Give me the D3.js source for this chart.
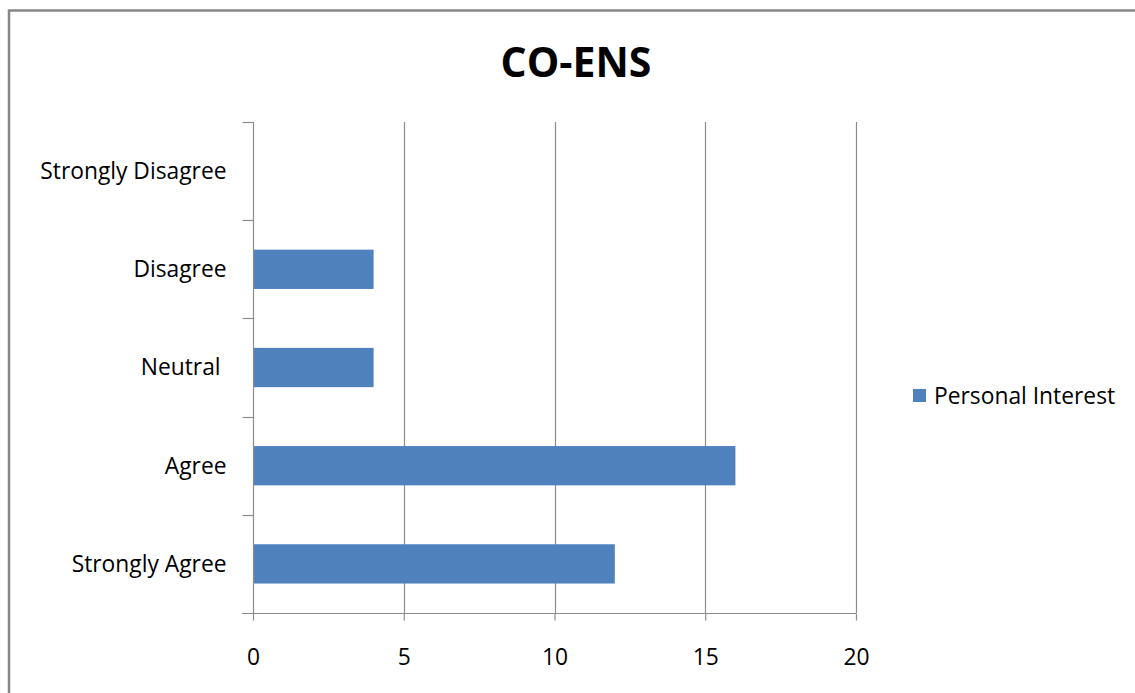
<!DOCTYPE html>
<html>
<head>
<meta charset="utf-8">
<script src="https://cdn.jsdelivr.net/npm/d3@7"></script>
<style>
  html, body { margin: 0; padding: 0; background: #fff; }
  svg { display: block; }
</style>
</head>
<body>
<div id="chart"></div>
<script>
// --- Data ---
const categories = ["Strongly Disagree", "Disagree", "Neutral ", "Agree", "Strongly Agree"];
const personalInterest = [0, 4, 4, 16, 12];
const xTicks = [0, 5, 10, 15, 20];
const seriesName = "Personal Interest";
const chartTitle = "CO-ENS";

// --- Layout ---
const W = 1135, H = 693;
const plot = { left: 253, right: 856, top: 122, bottom: 613 };
const FONT = "'Open Sans', Lato, sans-serif";
const LABEL_SIZE = 22.8;
const BAR_COLOR = "#4f81bd";
const GRID = "#8c8c8c";

const svg = d3.select("#chart").append("svg")
    .attr("width", W)
    .attr("height", H);

// outer chart border
svg.append("rect")
    .attr("x", 9).attr("y", 10.5)
    .attr("width", W + 20).attr("height", H + 20)
    .attr("fill", "#fff")
    .attr("stroke", "#868686")
    .attr("stroke-width", 2.5);

// title
svg.append("text")
    .attr("x", 576).attr("y", 77)
    .attr("text-anchor", "middle")
    .attr("font-family", FONT)
    .attr("font-weight", "bold")
    .attr("font-size", 41)
    .attr("fill", "#000")
    .text(chartTitle);

const x = d3.scaleLinear().domain([0, 20]).range([plot.left, plot.right]);
const y = d3.scaleBand().domain(categories).range([plot.top, plot.bottom]).paddingInner(0.6).paddingOuter(0.3);
const yEdge = d3.scaleLinear().domain([0, categories.length]).range([plot.top, plot.bottom]);

// vertical gridlines
svg.append("g")
  .selectAll("line")
  .data(xTicks.slice(1))
  .join("line")
    .attr("x1", d => Math.round(x(d)) + 0.5)
    .attr("x2", d => Math.round(x(d)) + 0.5)
    .attr("y1", plot.top)
    .attr("y2", plot.bottom)
    .attr("stroke", GRID)
    .attr("stroke-width", 1.2);

// bars
svg.append("g")
  .selectAll("rect")
  .data(categories.map((c, i) => ({ c, v: personalInterest[i] })))
  .join("rect")
    .attr("x", x(0))
    .attr("y", d => y(d.c))
    .attr("width", d => x(d.v) - x(0))
    .attr("height", y.bandwidth())
    .attr("fill", BAR_COLOR);

// x axis
const xAxis = svg.append("g")
    .attr("transform", `translate(0,${plot.bottom + 0.5})`)
    .call(d3.axisBottom(x).tickValues(xTicks).tickSize(7).tickSizeOuter(0).tickPadding(28));
xAxis.select(".domain").remove();
xAxis.append("line")
    .attr("x1", plot.left - 11).attr("x2", plot.right)
    .attr("stroke", GRID).attr("stroke-width", 1.2);
xAxis.selectAll(".tick line").attr("stroke", GRID).attr("stroke-width", 1.2);
xAxis.selectAll("text")
    .attr("font-family", FONT)
    .attr("font-size", LABEL_SIZE)
    .attr("fill", "#000");

// y axis
const yAxis = svg.append("g")
    .attr("transform", `translate(${plot.left + 0.5},0)`);
yAxis.append("line")
    .attr("y1", plot.top).attr("y2", plot.bottom)
    .attr("stroke", GRID).attr("stroke-width", 1.2);
yAxis.selectAll(".ytick")
  .data(d3.range(categories.length))
  .join("line")
    .attr("class", "ytick")
    .attr("x1", -11).attr("x2", 0)
    .attr("y1", d => Math.round(yEdge(d)) + 0.5)
    .attr("y2", d => Math.round(yEdge(d)) + 0.5)
    .attr("stroke", GRID).attr("stroke-width", 1.2);
yAxis.selectAll(".ylabel")
  .data(categories)
  .join("text")
    .attr("class", "ylabel")
    .attr("x", -27)
    .attr("y", d => y(d) + y.bandwidth() / 2)
    .attr("dy", "0.35em")
    .attr("text-anchor", "end")
    .attr("font-family", FONT)
    .attr("font-size", LABEL_SIZE)
    .attr("fill", "#000")
    .style("white-space", "pre")
    .text(d => d);

// legend
const legend = svg.append("g").attr("transform", "translate(913,389)");
legend.append("rect")
    .attr("width", 13).attr("height", 13)
    .attr("fill", BAR_COLOR);
legend.append("text")
    .attr("x", 21).attr("y", 7)
    .attr("dy", "0.35em")
    .attr("font-family", FONT)
    .attr("font-size", LABEL_SIZE)
    .attr("fill", "#000")
    .text(seriesName);
</script>
</body>
</html>
